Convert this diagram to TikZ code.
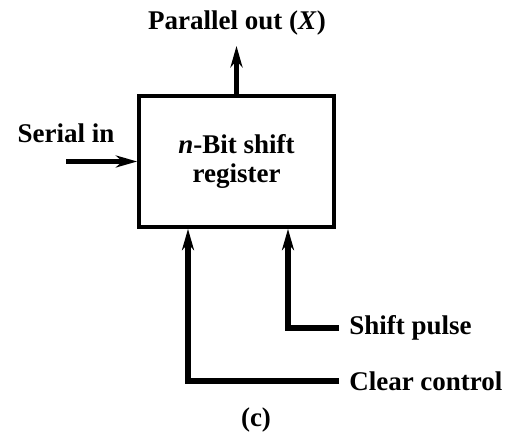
\documentclass[tikz,border=0pt]{standalone}
\usepackage{fontspec}
\setmainfont{Liberation Serif}
\usetikzlibrary{arrows.meta}
\usetikzlibrary{positioning}
\usetikzlibrary{calc}
\tikzset{sig/.style = {line width=4pt,
                       -{Stealth[length=16pt,width=9pt,inset=5pt]}},
         lbl/.style = {font=\fontsize{20.25}{21.75}\selectfont\bfseries,
                       inner sep=0pt}}

\begin{document}
\begin{tikzpicture}[x=0.75pt, y=0.75pt]
      \useasboundingbox (0, 0) rectangle (508, 434);
      \node [draw, line width=3pt, minimum width=146pt, minimum height=98pt,
             lbl, align=center] (reg) at (236.5, 272.5)
            {\textit{n}-Bit shift\\register};
      \node [lbl] (par) at (237, 411) {Parallel out (\textit{X})};
      \coordinate (parTip) at (236.5, 388);
      \draw [sig] (reg.north) -- (parTip);
      \node [lbl] (ser) at (66, 301) {Serial in};
      \coordinate (serIn) at (66, 272.5);
      \draw [sig] (serIn) -- (reg.west);
      \node [lbl, anchor=west, inner xsep=7.5pt] (shift) at (339, 106) {Shift pulse};
      \node [lbl, anchor=west, inner xsep=7.5pt] (clr) at (339, 53) {Clear control};
      \draw [sig] (shift.west) -| ($(reg.south) + (51.5, 0)$);
      \draw [sig] (clr.west) -| ($(reg.south) + (-48.5, 0)$);
      \node [lbl] (cap) at (256, 14) {(c)};
    \end{tikzpicture}
\end{document}
